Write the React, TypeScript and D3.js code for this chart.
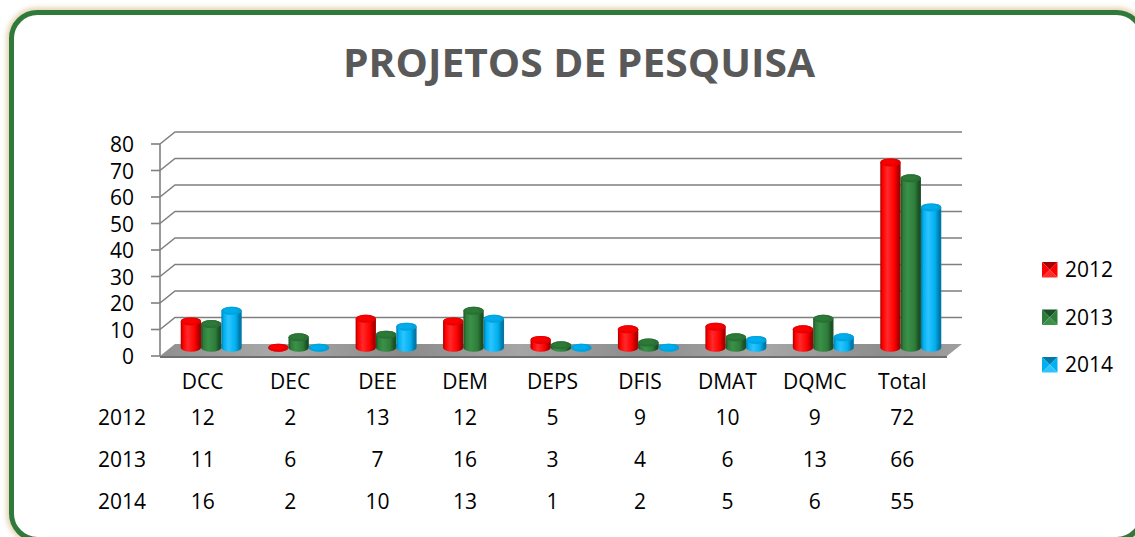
import React from "react";
import * as d3 from "d3";

const categories = ["DCC", "DEC", "DEE", "DEM", "DEPS", "DFIS", "DMAT", "DQMC", "Total"];
const years = ["2012", "2013", "2014"];
const values2012 = [12, 2, 13, 12, 5, 9, 10, 9, 72];
const values2013 = [11, 6, 7, 16, 3, 4, 6, 13, 66];
const values2014 = [16, 2, 10, 13, 1, 2, 5, 6, 55];
const yTicks = [0, 10, 20, 30, 40, 50, 60, 70, 80];
const seriesValues = [values2012, values2013, values2014];

const palette = [
  { dark: "#a80000", base: "#ff0000", light: "#ff2a2a", cap: "#e80000" },
  { dark: "#1b4f24", base: "#2e7d3a", light: "#3b9149", cap: "#2a7035" },
  { dark: "#0079a8", base: "#00b0f0", light: "#2cc4ff", cap: "#00a2dd" },
];

const FONT = "'Open Sans', 'Liberation Sans', sans-serif";

export default function App() {
  const W = 1135;
  const H = 537;
  const DX = 15;
  const DY = -12;
  const x = d3.scaleBand<string>().domain(categories).range([160, 947]);
  const y = d3.scaleLinear().domain([0, 80]).range([356, 144]);
  const groupW = 61;
  const xs = d3.scaleBand<string>().domain(years).range([0, groupW]);
  const bw = xs.bandwidth();
  const ry = 4;
  const rowBaselines = [425, 467, 509];

  const floorY = y(0);
  const floorRight = x.range()[1];

  return (
    <svg
      width={W}
      height={H}
      style={{ position: "absolute", left: 0, top: 0, background: "#fff" }}
      fontFamily={FONT}
    >
      <defs>
        <filter id="glow" x="-5%" y="-5%" width="110%" height="110%">
          <feGaussianBlur stdDeviation="2.5" />
        </filter>
        <linearGradient id="floorGrad" x1="0" y1="0" x2="1" y2="0">
          <stop offset="0" stopColor="#8f8f8f" />
          <stop offset="0.15" stopColor="#a9a9a9" />
          <stop offset="0.3" stopColor="#8a8a8a" />
          <stop offset="0.45" stopColor="#a5a5a5" />
          <stop offset="0.6" stopColor="#8c8c8c" />
          <stop offset="0.75" stopColor="#a7a7a7" />
          <stop offset="0.9" stopColor="#8d8d8d" />
          <stop offset="1" stopColor="#9f9f9f" />
        </linearGradient>
        {palette.map((p, i) => (
          <linearGradient key={i} id={`barGrad${i}`} x1="0" y1="0" x2="1" y2="0">
            <stop offset="0" stopColor={p.dark} />
            <stop offset="0.12" stopColor={p.base} />
            <stop offset="0.35" stopColor={p.light} />
            <stop offset="0.7" stopColor={p.base} />
            <stop offset="0.9" stopColor={p.dark} />
            <stop offset="1" stopColor={p.dark} />
          </linearGradient>
        ))}
      </defs>

      {/* outer frame */}
      <rect x={11} y={12} width={1132} height={528} rx={26} ry={26} fill="none"
        stroke="#e3d3b3" strokeWidth={9} filter="url(#glow)" />
      <rect x={11.5} y={12.5} width={1131} height={527} rx={26} ry={26} fill="#fff"
        stroke="#2f7a3b" strokeWidth={5} />

      {/* title */}
      <text x={579} y={77} textAnchor="middle" fontSize={40} fontWeight={700} fill="#595959"
        textLength={472} lengthAdjust="spacingAndGlyphs">
        PROJETOS DE PESQUISA
      </text>

      {/* floor */}
      <path
        d={`M${x.range()[0]},${floorY} L${floorRight},${floorY} L${floorRight + DX},${floorY + DY} L${x.range()[0] + DX},${floorY + DY} Z`}
        fill="url(#floorGrad)"
      />
      <path
        d={`M${x.range()[0]},${floorY} L${floorRight},${floorY} L${floorRight},${floorY + 2} L${x.range()[0]},${floorY + 2} Z`}
        fill="#6f6f6f"
      />

      {/* gridlines */}
      {yTicks.map((t) => (
        <g key={t} stroke="#7f7f7f" strokeWidth={1.6} fill="none">
          {t > 0 && (
            <path d={`M160,${y(t)} L${160 + DX},${y(t) + DY} L${floorRight + DX},${y(t) + DY}`} />
          )}
          <line x1={151} x2={160} y1={y(t)} y2={y(t)} />
        </g>
      ))}
      <line x1={160} x2={160} y1={y(80)} y2={y(0)} stroke="#7f7f7f" strokeWidth={1.6} />

      {/* y labels */}
      {yTicks.map((t) => (
        <text key={t} x={134} y={y(t) + 8} textAnchor="end" fontSize={21} fill="#000">
          {t}
        </text>
      ))}

      {/* bars */}
      {categories.map((c, ci) => {
        const gx = (x(c) as number) + x.bandwidth() / 2 + DX / 2 - groupW / 2;
        return (
          <g key={c}>
            {years.map((yr, si) => {
              const v = seriesValues[si][ci];
              const bx = gx + (xs(yr) as number);
              const rx = bw / 2;
              const cx = bx + rx;
              const bottomEdge = y(0) - 4.3;
              const baseC = bottomEdge - ry;
              let topC = y(v) - 6.8 + ry;
              if (topC > baseC) topC = baseC;
              const body = `M${bx},${topC} L${bx},${baseC} A${rx},${ry} 0 0 0 ${bx + bw},${baseC} L${bx + bw},${topC} A${rx},${ry} 0 0 0 ${bx},${topC} Z`;
              return (
                <g key={yr}>
                  <path d={body} fill={`url(#barGrad${si})`} />
                  <ellipse cx={cx} cy={topC} rx={rx} ry={ry} fill={palette[si].cap} />
                  <ellipse cx={cx - 1} cy={topC - 0.5} rx={rx - 3} ry={ry - 1.5} fill={palette[si].base} opacity={0.8} />
                </g>
              );
            })}
          </g>
        );
      })}

      {/* category labels */}
      {categories.map((c) => (
        <text key={c} x={(x(c) as number) + x.bandwidth() / 2 - 1} y={389} textAnchor="middle" fontSize={21} fill="#000">
          {c}
        </text>
      ))}

      {/* data table */}
      {years.map((yr, si) => (
        <g key={yr}>
          <text x={98} y={rowBaselines[si]} fontSize={21} fill="#000">{yr}</text>
          {categories.map((c, ci) => (
            <text key={c} x={(x(c) as number) + x.bandwidth() / 2 - 1} y={rowBaselines[si]} textAnchor="middle" fontSize={21} fill="#000">
              {seriesValues[si][ci]}
            </text>
          ))}
        </g>
      ))}

      {/* legend */}
      {years.map((yr, si) => {
        const ly = 262 + si * 47.5;
        const lx = 1042;
        const s = 15.5;
        const p = palette[si];
        const c = [lx + s / 2, ly + s / 2];
        return (
          <g key={yr}>
            <polygon points={`${lx},${ly} ${lx + s},${ly} ${c[0]},${c[1]}`} fill={p.dark} />
            <polygon points={`${lx},${ly} ${lx},${ly + s} ${c[0]},${c[1]}`} fill={p.base} />
            <polygon points={`${lx + s},${ly} ${lx + s},${ly + s} ${c[0]},${c[1]}`} fill={p.base} />
            <polygon points={`${lx},${ly + s} ${lx + s},${ly + s} ${c[0]},${c[1]}`} fill={p.light} />
            <text x={1065} y={ly + 15} fontSize={21} fill="#000">{yr}</text>
          </g>
        );
      })}
    </svg>
  );
}
